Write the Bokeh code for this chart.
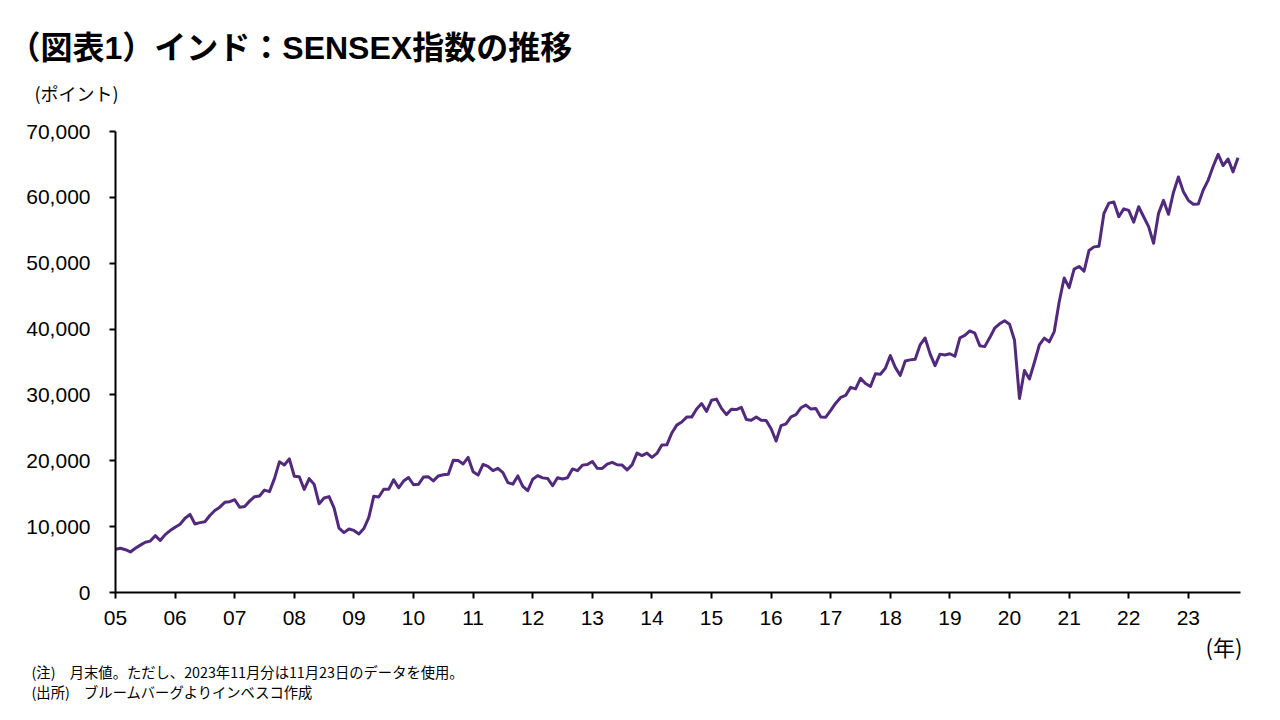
from bokeh.plotting import figure
from bokeh.models import FixedTicker, NumeralTickFormatter, Title, Range1d
from bokeh.embed import file_html
from bokeh.resources import INLINE

# ---- data (SENSEX month-end values, Jan 2005 - Nov 2023) ----
sensex_2005 = [6556, 6714, 6493, 6154, 6715, 7194, 7635, 7805, 8634, 7892, 8789, 9398]
sensex_2006 = [9920, 10370, 11280, 11852, 10399, 10609, 10744, 11699, 12454, 12962, 13696, 13787]
sensex_2007 = [14091, 12938, 13072, 13872, 14544, 14651, 15551, 15319, 17291, 19838, 19363, 20287]
sensex_2008 = [17649, 17579, 15644, 17287, 16416, 13462, 14356, 14565, 12860, 9788, 9093, 9647]
sensex_2009 = [9424, 8892, 9709, 11403, 14625, 14494, 15670, 15667, 17127, 15896, 16926, 17465]
sensex_2010 = [16358, 16430, 17528, 17559, 16945, 17701, 17868, 17971, 20069, 20032, 19521, 20509]
sensex_2011 = [18328, 17823, 19445, 19136, 18503, 18846, 18197, 16677, 16454, 17705, 16123, 15455]
sensex_2012 = [17194, 17753, 17404, 17319, 16219, 17430, 17236, 17430, 18763, 18505, 19340, 19427]
sensex_2013 = [19895, 18862, 18836, 19504, 19760, 19396, 19346, 18620, 19380, 21165, 20792, 21171]
sensex_2014 = [20514, 21120, 22386, 22418, 24217, 25414, 25895, 26638, 26631, 27866, 28694, 27499]
sensex_2015 = [29183, 29362, 27957, 27011, 27828, 27781, 28115, 26283, 26155, 26657, 26146, 26118]
sensex_2016 = [24871, 23002, 25342, 25607, 26668, 27000, 28052, 28452, 27866, 27930, 26653, 26626]
sensex_2017 = [27656, 28743, 29621, 29918, 31146, 30922, 32515, 31730, 31284, 33213, 33149, 34057]
sensex_2018 = [35965, 34184, 32969, 35160, 35322, 35423, 37607, 38645, 36227, 34442, 36194, 36068]
sensex_2019 = [36257, 35867, 38673, 39032, 39714, 39395, 37481, 37333, 38667, 40129, 40794, 41254]
sensex_2020 = [40723, 38297, 29468, 33718, 32424, 34916, 37607, 38628, 38068, 39614, 44150, 47751]
sensex_2021 = [46286, 49100, 49509, 48782, 51937, 52483, 52587, 57552, 59126, 59307, 57065, 58254]
sensex_2022 = [58014, 56247, 58569, 57061, 55566, 53019, 57570, 59537, 57427, 60747, 63100, 60841]
sensex_2023 = [59550, 58962, 58992, 61112, 62622, 64719, 66528, 64831, 65828, 63875, 66018]

sensex = (sensex_2005 + sensex_2006 + sensex_2007 + sensex_2008 + sensex_2009 +
          sensex_2010 + sensex_2011 + sensex_2012 + sensex_2013 + sensex_2014 +
          sensex_2015 + sensex_2016 + sensex_2017 + sensex_2018 + sensex_2019 +
          sensex_2020 + sensex_2021 + sensex_2022 + sensex_2023)

start_year = 2005
month_pos = [start_year + i / 12 for i in range(len(sensex))]

tick_years = list(range(2005, 2024))
tick_labels = ["05", "06", "07", "08", "09", "10", "11", "12", "13", "14",
               "15", "16", "17", "18", "19", "20", "21", "22", "23"]
y_ticks = [0, 10000, 20000, 30000, 40000, 50000, 60000, 70000]

title_text = "（図表1）インド：SENSEX指数の推移"
y_unit_text = "(ポイント)"
x_unit_text = "(年)"
note_text = "(注)　月末値。ただし、2023年11月分は11月23日のデータを使用。\n(出所)　ブルームバーグよりインベスコ作成"

# ---- layout (pixels) ----
W, H = 1264, 704
F_LEFT, F_RIGHT, F_TOP, F_BOTTOM = 115, 1240, 131, 592
x0, x1 = start_year, start_year + (len(sensex) - 0.5) / 12
y0, y1 = 0, 70000

p = figure(width=W, height=H, output_backend="svg", toolbar_location=None,
           x_range=Range1d(x0, x1), y_range=Range1d(y0, y1),
           min_border_left=F_LEFT, min_border_right=W - F_RIGHT,
           min_border_top=F_TOP, min_border_bottom=H - F_BOTTOM)
p.outline_line_color = None
p.grid.visible = False
p.background_fill_color = "white"
p.border_fill_color = "white"

p.line(month_pos, sensex, line_color="#512a7e", line_width=3, line_join="round")

xa = p.xaxis[0]
ya = p.yaxis[0]
xa.ticker = FixedTicker(ticks=tick_years)
xa.major_label_overrides = {y: l for y, l in zip(tick_years, tick_labels)}
ya.ticker = FixedTicker(ticks=y_ticks)
ya.formatter = NumeralTickFormatter(format="0,0")
for ax in (xa, ya):
    ax.axis_line_color = "black"
    ax.axis_line_width = 2
    ax.major_tick_line_color = "black"
    ax.major_tick_line_width = 2
    ax.major_tick_in = 0
    ax.major_tick_out = 6
    ax.minor_tick_line_color = None
    ax.major_label_text_font = "Liberation Sans"
    ax.major_label_text_font_size = "21px"
    ax.major_label_text_color = "black"
xa.major_label_standoff = 12
ya.major_label_standoff = 19

# ---- texts as title panels ----
jp = "Noto Sans CJK JP"

# above: first added sits next to the frame
p.add_layout(Title(text=y_unit_text, text_font=jp, text_font_size="18px",
                   text_font_style="normal", text_color="black", align="left",
                   offset=34 - F_LEFT, standoff=50, vertical_align="middle"), "above")
p.add_layout(Title(text=title_text, text_font="Liberation Sans, Noto Sans CJK JP",
                   text_font_size="32px", text_font_style="bold", text_color="black",
                   align="left", offset=8 - F_LEFT, standoff=-24,
                   vertical_align="bottom"), "above")

# below: after the x axis
p.add_layout(Title(text=x_unit_text, text_font=jp, text_font_size="22px",
                   text_font_style="normal", text_color="black", align="left",
                   offset=1205 - F_LEFT, standoff=3, vertical_align="middle"), "below")
p.add_layout(Title(text=note_text, text_font=jp, text_font_size="14.3px",
                   text_font_style="normal", text_color="black", align="left",
                   offset=31 - F_LEFT, standoff=-8, vertical_align="top",
                   text_line_height=0.98), "below")

open("out.html", "w").write(file_html(p, INLINE))
